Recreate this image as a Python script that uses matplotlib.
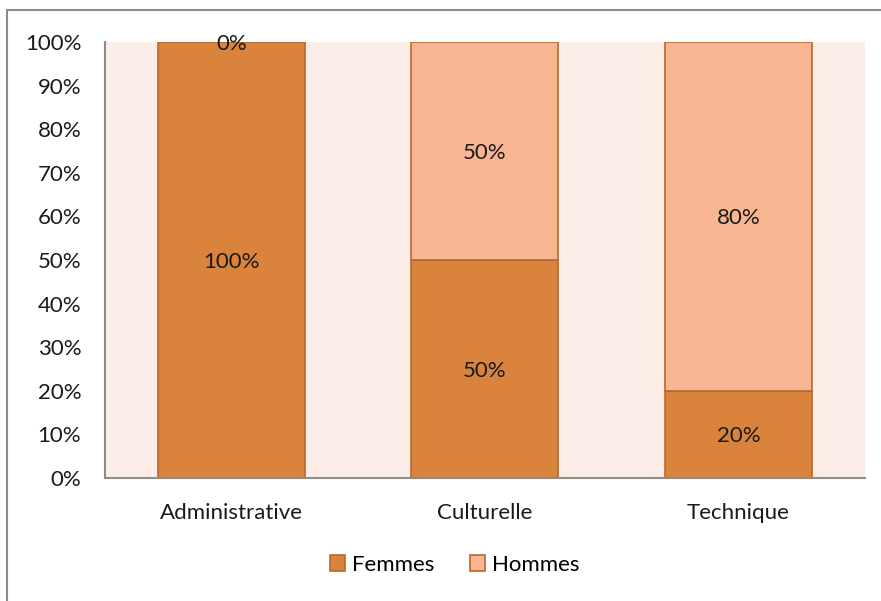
import matplotlib
matplotlib.use("Agg")
import matplotlib.pyplot as plt
import numpy as np

categories = ["Administrative", "Culturelle", "Technique"]
femmes = [100, 50, 20]
hommes = [0, 50, 80]
series_names = ["Femmes", "Hommes"]

plt.rcParams['font.family'] = ['Lato', 'DejaVu Sans']

fig = plt.figure(figsize=(8.81, 6.01), dpi=100)
ax = fig.add_axes([0.119, 0.2047, 0.863, 0.7253])
ax.set_facecolor("#FCEDE8")

# outer chart frame (left and top only visible)
fig.add_artist(plt.Line2D([0.0075, 0.0075], [0, 0.983], color="#8C8C8C", lw=1.5, transform=fig.transFigure))
fig.add_artist(plt.Line2D([0.0075, 1.0], [0.983, 0.983], color="#8C8C8C", lw=1.5, transform=fig.transFigure))

x = np.arange(len(categories))
w = 0.58
b1 = ax.bar(x, femmes, w, color="#D9833D", edgecolor="#B9682B", lw=1.2, label=series_names[0])
b2 = ax.bar(x, hommes, w, bottom=femmes, color="#F8B592", edgecolor="#B9682B", lw=1.2, label=series_names[1])

fs = 16
for i in range(len(categories)):
    ax.text(x[i], femmes[i] / 2, "%d%%" % femmes[i], ha="center", va="center_baseline", fontsize=fs, color="#1a1a1a")
    ax.text(x[i], femmes[i] + hommes[i] / 2, "%d%%" % hommes[i], ha="center", va="center_baseline", fontsize=fs, color="#1a1a1a")

ax.set_xlim(-0.5, 2.5)
ax.set_ylim(0, 100)
ax.set_yticks(range(0, 101, 10))
ax.set_yticklabels(["%d%%" % v for v in range(0, 101, 10)], fontsize=fs, color="#1a1a1a")
ax.set_xticks(x)
ax.set_xticklabels(categories, fontsize=fs, color="#1a1a1a")
ax.tick_params(axis="both", length=0)
ax.tick_params(axis="y", pad=17)
ax.tick_params(axis="x", pad=18)
for s in ["top", "right"]:
    ax.spines[s].set_visible(False)
ax.spines["left"].set_color("#8C8C8C")
ax.spines["bottom"].set_color("#8C8C8C")
ax.spines["left"].set_linewidth(1.5)
ax.spines["bottom"].set_linewidth(1.5)

fig.legend(loc="center", bbox_to_anchor=(0.516, 0.06), ncol=2, frameon=False, fontsize=fs,
           handlelength=0.7, handleheight=0.7, handletextpad=0.3, columnspacing=1.6)

fig.savefig("out.png", dpi=100, facecolor="white")
